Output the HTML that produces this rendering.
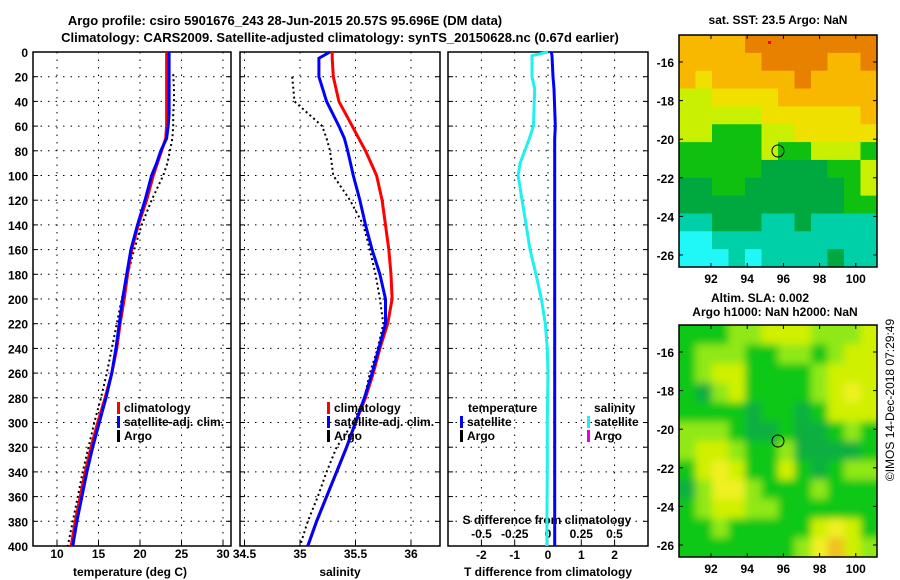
<!DOCTYPE html>
<html><head><meta charset="utf-8"><style>
body{margin:0;background:#fff;}
svg{display:block;font-family:"Liberation Sans",sans-serif;font-weight:bold;}
</style></head><body>
<svg id="c" width="900" height="580" viewBox="0 0 900 580"></svg>
<script>
const depthsC=[0,10,20,30,40,50,60,70,80,90,100,120,140,160,180,200,220,240,260,280,300,320,340,360,380,400];
const climT=[23.2,23.2,23.2,23.2,23.2,23.2,23.2,23.1,22.6,22.1,21.6,20.8,19.8,19.0,18.5,18.1,17.6,17.2,16.6,15.8,14.9,14.1,13.4,12.8,12.2,11.7];
const satT=[23.5,23.5,23.5,23.5,23.5,23.5,23.4,23.2,22.5,22.0,21.4,20.6,19.7,18.9,18.4,17.9,17.5,17.1,16.6,15.9,15.1,14.3,13.6,13.0,12.4,11.9];
const depthsA=[18,30,40,50,60,70,80,90,100,110,120,140,160,180,200,220,240,260,280,300,320,340,360,380,400];
const argoT=[24.0,24.1,24.1,24.0,24.0,23.9,23.6,23.3,22.8,22.1,21.4,20.2,19.3,18.5,17.8,17.2,16.6,16.0,15.3,14.5,13.8,13.1,12.5,11.9,11.3];
const depthsS=[0,5,20,40,60,70,80,100,120,140,160,180,200,220,240,260,280,300,320,340,360,380,400];
const climS=[35.29,35.29,35.30,35.35,35.47,35.53,35.59,35.69,35.74,35.77,35.80,35.82,35.83,35.79,35.72,35.66,35.59,35.50,35.42,35.33,35.24,35.15,35.07];
const satS=[35.27,35.17,35.17,35.24,35.35,35.40,35.43,35.48,35.54,35.59,35.65,35.72,35.77,35.77,35.71,35.65,35.58,35.50,35.42,35.33,35.24,35.15,35.07];
const argoS=[null,null,34.93,34.95,35.2,35.24,35.27,35.30,35.45,35.57,35.63,35.68,35.72,35.75,35.70,35.63,35.58,35.48,35.33,35.24,35.16,35.07,35.0];
const depthsD=[0,3,20,30,60,70,90,100,120,140,160,180,200,220,240,260,300,340,380,400];
const diffT=[0.1,0.12,0.15,0.18,0.22,0.2,0.2,0.2,0.2,0.2,0.2,0.2,0.2,0.2,0.2,0.2,0.2,0.2,0.2,0.2];
const diffS=[0,-0.12,-0.12,-0.1,-0.11,-0.14,-0.21,-0.225,-0.195,-0.165,-0.135,-0.09,-0.05,-0.02,-0.005,0,-0.005,-0.005,-0.008,-0.008];
const depthTicks=[0,20,40,60,80,100,120,140,160,180,200,220,240,260,280,300,320,340,360,380,400];
const tTicks=[10,15,20,25,30];
const sTicks=[34.5,35,35.5,36];
const tdTicks=[-2,-1,0,1,2];
const sdTicks=[-0.5,-0.25,0,0.25,0.5];
const sdLabels=["-0.5","-0.25","0","0.25","0.5"];
const lonTicks=[92,94,96,98,100];
const latTicks=[-16,-18,-20,-22,-24,-26];
const sstGrid=[
[6,6,6,6,7,7,7,7,7,7,7,7],
[6,6,6,6,6,7,7,7,7,6,6,7],
[6,5,6,6,6,6,6,7,6,6,6,6],
[4,4,5,5,5,5,6,6,6,6,6,6],
[4,4,4,4,4,5,5,5,5,5,5,6],
[4,4,3,3,3,4,4,5,5,5,5,5],
[3,3,3,3,3,4,3,3,4,4,4,3],
[3,3,3,3,3,2,2,2,2,3,3,4],
[2,2,3,3,2,2,2,2,2,2,3,4],
[2,2,2,2,2,2,2,2,2,2,3,3],
[1,1,2,2,2,1,1,2,1,1,1,1],
[0,0,1,1,1,1,1,1,1,1,1,1],
[0,0,0,1,0,1,1,1,1,2,1,1]];
const slaGrid=[
[1,1,1,2,2,3,3,3,2,2,2,3],
[1,2,2,2,1,1,2,2,1,2,3,3],
[1,2,3,3,1,1,1,1,2,3,3,3],
[1,0,2,3,1,1,1,1,2,3,4,3],
[1,1,1,1,0,1,1,0,1,3,3,3],
[2,2,2,1,0,0,1,0,0,1,2,1],
[2,3,3,2,1,1,2,0,0,0,0,1],
[1,3,4,3,1,1,3,1,0,1,2,2],
[0,2,4,4,2,1,1,1,2,1,1,1],
[1,2,3,3,2,2,1,1,1,1,1,1],
[1,1,2,1,1,1,1,1,3,4,3,1],
[1,1,1,1,1,1,1,2,4,5,3,2]];
const sstColors=["#20f8f8","#00d0a8","#00a840","#10c010","#c8f000","#f0e000","#f8b800","#e88000"];
const slaColors=["#10b040","#10c818","#90e818","#d0f000","#f0f020","#f0c020"];

const NS="http://www.w3.org/2000/svg";
const svg=document.getElementById('c');
function mk(tag,attrs,parent){const e=document.createElementNS(NS,tag);for(const k in attrs)e.setAttribute(k,attrs[k]);(parent||svg).appendChild(e);return e;}
function txt(x,y,s,anchor,size,parent){const t=mk('text',{x:x,y:y,'text-anchor':anchor||'start','font-size':size||12},parent);t.textContent=s;return t;}
const Y0=52,Y1=546;
const yD=d=>Y0+(Y1-Y0)*d/400;
const xT=v=>57+(v-10)*8.3;
const xS=v=>300+(v-35)*111;
const xTd=v=>548+v*33.3;
const xSd=v=>548+v*133;

function panel(name,x0,x1,vgrid){
  const g=mk('g',{});
  
  
  depthTicks.forEach(d=>{if(d>0&&d<400)mk('line',{x1:x0,x2:x1,y1:yD(d),y2:yD(d),stroke:'#000','stroke-dasharray':'1.5 6'},g);
    mk('line',{x1:x0,x2:x0+5,y1:yD(d),y2:yD(d),stroke:'#000'},g);mk('line',{x1:x1-5,x2:x1,y1:yD(d),y2:yD(d),stroke:'#000'},g);});
  vgrid.forEach(x=>{mk('line',{x1:x,x2:x,y1:Y0,y2:Y1,stroke:'#000','stroke-dasharray':'1.5 6'},g);mk('line',{x1:x,x2:x,y1:Y1-5,y2:Y1,stroke:'#000'},g);});
  mk('rect',{x:x0,y:Y0,width:x1-x0,height:Y1-Y0,fill:'none',stroke:'#000','stroke-width':1.5},g);
  return g;
}
function line(g,xs,ds,fx,color,w,dash,name){
  let p='';xs.forEach((v,i)=>{if(v===null)return;p+=(p?'L':'M')+fx(v).toFixed(1)+','+yD(ds[i]).toFixed(1);});
  const a={d:p,fill:'none',stroke:color,'stroke-width':w};if(dash)a['stroke-dasharray']=dash;
  const e=mk('path',a,g);
  
  
}
function legend(g,x,y,items){items.forEach((it,i)=>{mk('rect',{x:x,y:y+i*14-10,width:3,height:12,fill:it[1]},g);const t=txt(x+7,y+i*14,it[0],'start',12,g);});}

let t=txt(285,25,'Argo profile: csiro 5901676_243 28-Jun-2015 20.57S 95.696E (DM data)','middle',13);

t=txt(340,42,'Climatology: CARS2009. Satellite-adjusted climatology: synTS_20150628.nc (0.67d earlier)','middle',13);


const p1=panel('temperature-panel',33,231,tTicks.map(xT));
depthTicks.forEach(d=>txt(28,yD(d)+5,String(d),'end',12,p1));
tTicks.forEach(v=>txt(xT(v),558,String(v),'middle',12,p1));
t=txt(130,576,'temperature (deg C)','middle',12,p1);
line(p1,argoT,depthsA,xT,'#000',2,'2 3','argo-temperature-line');
line(p1,climT,depthsC,xT,'#f00',3,null,'climatology-temperature-line');
line(p1,satT,depthsC,xT,'#00f',3,null,'satellite-temperature-line');
legend(p1,117,412,[['climatology','#f00'],['satellite-adj. clim.','#00f'],['Argo','#000']]);

const p2=panel('salinity-panel',240,440,sTicks.map(xS));
sTicks.forEach(v=>txt(xS(v),558,String(v),'middle',12,p2));
t=txt(340,576,'salinity','middle',12,p2);
line(p2,argoS,depthsS,xS,'#000',2,'2 3','argo-salinity-line');
line(p2,climS,depthsS,xS,'#f00',3,null,'climatology-salinity-line');
line(p2,satS,depthsS,xS,'#00f',3,null,'satellite-salinity-line');
legend(p2,327,412,[['climatology','#f00'],['satellite-adj. clim.','#00f'],['Argo','#000']]);

const p3=panel('difference-panel',448,648,tdTicks.map(xTd));
tdTicks.forEach(v=>txt(xTd(v),559,String(v),'middle',12,p3));
sdTicks.forEach((v,i)=>txt(xSd(v),538,sdLabels[i],'middle',12,p3));
txt(547,524,'S difference from climatology','middle',12,p3);
t=txt(548,576,'T difference from climatology','middle',12,p3);
line(p3,diffS,depthsD,xSd,'#20f0f0',3,null,'salinity-difference-line');
line(p3,diffT,depthsD,xTd,'#00f',3,null,'temperature-difference-line');
txt(468,412,'temperature','start',12,p3);
legend(p3,460,426,[['satellite','#00f'],['Argo','#000']]);
txt(594,412,'salinity','start',12,p3);
legend(p3,587,426,[['satellite','#20f0f0'],['Argo','#e000e0']]);

const MX0=679,MX1=877;
const xLon=l=>711+(l-92)*18.1;
const defs=mk('defs',{});
const f=mk('filter',{id:'bl',x:'-5%',y:'-5%',width:'110%',height:'110%'},defs);
mk('feGaussianBlur',{stdDeviation:4},f);
function map(name,y0,y1,yLat,grid,colors,cy,blur){
  const g=mk('g',{});
  
  
  const rows=grid.length,cols=grid[0].length;
  const cw=(MX1-MX0)/cols,ch=(y1-y0)/rows;
  const cp=mk('clipPath',{id:name+'-clip'},defs);
  mk('rect',{x:MX0,y:y0,width:MX1-MX0,height:y1-y0},cp);
  const outer=mk('g',{'clip-path':'url(#'+name+'-clip)'},g);
  const cg=mk('g',blur?{filter:'url(#bl)'}:{},outer);
  grid.forEach((r,i)=>r.forEach((v,j)=>{
    const ex=blur?8:0;
    const x=MX0+j*cw-(j===0?ex:0),y=y0+i*ch-(i===0?ex:0);
    const w=cw+0.6+(j===0||j===cols-1?ex:0),h=ch+0.6+(i===0||i===rows-1?ex:0);
    const c=mk('rect',{x:x,y:y,width:w,height:h,fill:colors[v]},cg);
    }));
  mk('rect',{x:MX0,y:y0,width:MX1-MX0,height:y1-y0,fill:'none',stroke:'#000','stroke-width':1.5},g);
  lonTicks.forEach(l=>{mk('line',{x1:xLon(l),x2:xLon(l),y1:y1,y2:y1-4,stroke:'#000'},g);mk('line',{x1:xLon(l),x2:xLon(l),y1:y0,y2:y0+4,stroke:'#000'},g);txt(xLon(l),y1+16,String(l),'middle',12,g);});
  latTicks.forEach(l=>{const y=yLat(l);mk('line',{x1:MX0,x2:MX0+4,y1:y,y2:y,stroke:'#000'},g);mk('line',{x1:MX1,x2:MX1-4,y1:y,y2:y,stroke:'#000'},g);txt(674,y+5,String(l),'end',12,g);});
  mk('circle',{cx:xLon(95.7),cy:cy,r:6,fill:'none',stroke:'#000','stroke-width':1},g);
  return g;
}
const m1=map('sst-map',35,267,l=>62+(-16-l)*19.3,sstGrid,sstColors,151,false);
txt(778,24,'sat. SST: 23.5 Argo: NaN','middle',12,m1);
mk('rect',{x:768,y:41,width:3,height:3,fill:'#f00'},m1);
const m2=map('sla-map',325,557,l=>352+(-16-l)*19.3,slaGrid,slaColors,441,true);
txt(760,302,'Altim. SLA: 0.002','middle',12,m2);
txt(775,316,'Argo h1000: NaN h2000: NaN','middle',12,m2);
t=txt(0,0,'©IMOS 14-Dec-2018 07:29:49','middle',12);
t.setAttribute('transform','translate(894,400) rotate(-90)');
t.setAttribute('font-weight','normal');

</script>
</body></html>
